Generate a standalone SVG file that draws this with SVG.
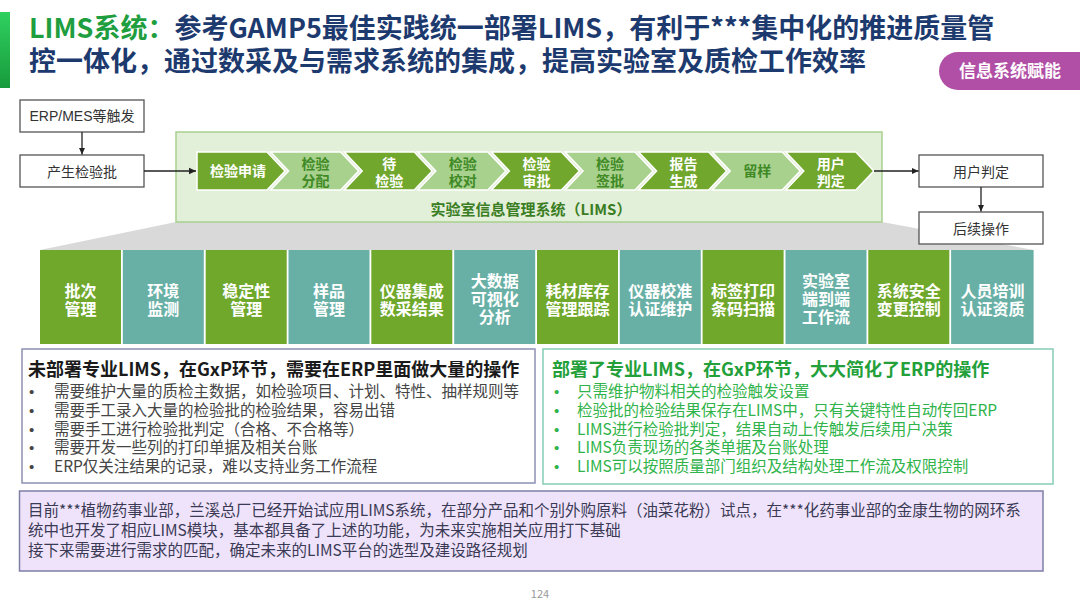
<svg xmlns="http://www.w3.org/2000/svg" width="1080" height="607" viewBox="0 0 1080 607">
<defs>
<linearGradient id="bar" x1="0" y1="0" x2="0" y2="1">
<stop offset="0" stop-color="#2fd160"/><stop offset="1" stop-color="#189a3c"/>
</linearGradient>
<marker id="arr" markerWidth="8" markerHeight="8" refX="7" refY="4" orient="auto" markerUnits="userSpaceOnUse">
<path d="M0,0.8 L7,4 L0,7.2 Z" fill="#222"/>
</marker>
<style>
text{font-family:"Noto Sans CJK SC","Noto Sans",sans-serif}
.t1{font-size:27px;font-weight:bold;fill:#1d3a6f}
.box{fill:#fff;stroke:#555;stroke-width:1.3}
.bt{font-size:14px;fill:#333;text-anchor:middle;font-family:"Liberation Sans","Noto Sans CJK SC",sans-serif}
.cd{fill:#70a72c;stroke:#fff;stroke-width:1.5}
.cl{fill:#a9d18e;stroke:#fff;stroke-width:1.5}
.ctd{font-size:14px;font-weight:bold;fill:#fff;text-anchor:middle}
.ctl{font-size:14px;font-weight:bold;fill:#3f8a25;text-anchor:middle}
.mg{fill:#6fa82b}
.mt{fill:#68b0a6}
.mtx{font-size:16px;font-weight:bold;fill:#fff;text-anchor:middle}
.hd{font-size:18px;font-weight:bold}
.bl{font-size:15.5px}
.dot{font-family:"Liberation Sans",sans-serif;font-size:15px}
.conn{stroke:#222;stroke-width:1.3;fill:none;marker-end:url(#arr)}
</style>
</defs>
<rect width="1080" height="607" fill="#fff"/>

<g id="header">
<rect x="0" y="12" width="10" height="76" fill="url(#bar)"/>
<text class="t1"><tspan x="29" y="38"><tspan fill="#1e9e3e">LIMS系统：</tspan>参考GAMP5最佳实践统一部署LIMS，有利于***集中化的推进质量管</tspan><tspan x="29" y="71">控一体化，通过数采及与需求系统的集成，提高实验室及质检工作效率</tspan></text>
</g>
<g id="tag">
<path d="M958,52 H1080 V90 H958 A19,19 0 0 1 958,52 Z" fill="#b04fa5"/>
<text x="1010" y="77" font-size="17" font-weight="bold" fill="#fff" text-anchor="middle">信息系统赋能</text>
</g>

<g id="trapezoid">
<polygon points="176,222 882,222 1034,250 40,250" fill="#d9d9d9"/>
</g>

<g id="lims">
<rect x="176" y="132" width="706" height="90" fill="#e2efd9" stroke="#a9d18e" stroke-width="1.5"/>
<text x="531" y="215" font-size="15" font-weight="bold" fill="#3b7d23" text-anchor="middle">实验室信息管理系统（LIMS）</text>
</g>

<g id="chevrons">
<g id="c1"><polygon class="cd" points="197,152 267,152 285,171 267,190 197,190"/><text x="238" y="176" class="ctd">检验申请</text></g>
<g id="c2"><polygon class="cl" points="270.6,152 340.6,152 358.6,171 340.6,190 270.6,190 288.6,171"/><text class="ctl"><tspan x="315.6" y="168.5">检验</tspan><tspan x="315.6" y="185.5">分配</tspan></text></g>
<g id="c3"><polygon class="cd" points="344.2,152 414.2,152 432.2,171 414.2,190 344.2,190 362.2,171"/><text class="ctd"><tspan x="389.2" y="168.5">待</tspan><tspan x="389.2" y="185.5">检验</tspan></text></g>
<g id="c4"><polygon class="cl" points="417.8,152 487.8,152 505.8,171 487.8,190 417.8,190 435.8,171"/><text class="ctl"><tspan x="462.8" y="168.5">检验</tspan><tspan x="462.8" y="185.5">校对</tspan></text></g>
<g id="c5"><polygon class="cd" points="491.4,152 561.4,152 579.4,171 561.4,190 491.4,190 509.4,171"/><text class="ctd"><tspan x="536.4" y="168.5">检验</tspan><tspan x="536.4" y="185.5">审批</tspan></text></g>
<g id="c6"><polygon class="cl" points="565,152 635,152 653,171 635,190 565,190 583,171"/><text class="ctl"><tspan x="610" y="168.5">检验</tspan><tspan x="610" y="185.5">签批</tspan></text></g>
<g id="c7"><polygon class="cd" points="638.6,152 708.6,152 726.6,171 708.6,190 638.6,190 656.6,171"/><text class="ctd"><tspan x="683.6" y="168.5">报告</tspan><tspan x="683.6" y="185.5">生成</tspan></text></g>
<g id="c8"><polygon class="cl" points="712.2,152 782.2,152 800.2,171 782.2,190 712.2,190 730.2,171"/><text x="757.2" y="176" class="ctl">留样</text></g>
<g id="c9"><polygon class="cd" points="785.8,152 855.8,152 873.8,171 855.8,190 785.8,190 803.8,171"/><text class="ctd"><tspan x="830.8" y="168.5">用户</tspan><tspan x="830.8" y="185.5">判定</tspan></text></g>
</g>

<g id="n-erp"><rect class="box" x="20" y="100" width="124" height="32"/><text x="82" y="121" class="bt">ERP/MES等触发</text></g>
<g id="n-batch"><rect class="box" x="20" y="155" width="124" height="32"/><text x="82" y="176.5" class="bt">产生检验批</text></g>
<g id="n-judge"><rect class="box" x="919" y="155" width="124" height="32"/><text x="981" y="176.5" class="bt">用户判定</text></g>
<g id="n-follow"><rect class="box" x="919" y="212" width="124" height="32"/><text x="981" y="233.5" class="bt">后续操作</text></g>

<g id="connectors">
<line class="conn" x1="82" y1="132" x2="82" y2="154.5"/>
<line class="conn" x1="144" y1="171" x2="196" y2="171"/>
<line class="conn" x1="874" y1="171" x2="918.5" y2="171"/>
<line class="conn" x1="981" y1="187" x2="981" y2="211.5"/>
</g>

<g id="modules">
<g id="m1"><rect class="mg" x="40" y="250" width="81" height="94"/><text class="mtx"><tspan x="80.5" y="297">批次</tspan><tspan x="80.5" y="315">管理</tspan></text></g>
<g id="m2"><rect class="mt" x="122.8" y="250" width="81" height="94"/><text class="mtx"><tspan x="163.3" y="297">环境</tspan><tspan x="163.3" y="315">监测</tspan></text></g>
<g id="m3"><rect class="mg" x="205.7" y="250" width="81" height="94"/><text class="mtx"><tspan x="246.2" y="297">稳定性</tspan><tspan x="246.2" y="315">管理</tspan></text></g>
<g id="m4"><rect class="mt" x="288.5" y="250" width="81" height="94"/><text class="mtx"><tspan x="329" y="297">样品</tspan><tspan x="329" y="315">管理</tspan></text></g>
<g id="m5"><rect class="mg" x="371.3" y="250" width="81" height="94"/><text class="mtx"><tspan x="411.8" y="297">仪器集成</tspan><tspan x="411.8" y="315">数采结果</tspan></text></g>
<g id="m6"><rect class="mt" x="454.2" y="250" width="81" height="94"/><text class="mtx"><tspan x="494.7" y="287">大数据</tspan><tspan x="494.7" y="305">可视化</tspan><tspan x="494.7" y="323">分析</tspan></text></g>
<g id="m7"><rect class="mg" x="537" y="250" width="81" height="94"/><text class="mtx"><tspan x="577.5" y="297">耗材库存</tspan><tspan x="577.5" y="315">管理跟踪</tspan></text></g>
<g id="m8"><rect class="mt" x="619.8" y="250" width="81" height="94"/><text class="mtx"><tspan x="660.3" y="297">仪器校准</tspan><tspan x="660.3" y="315">认证维护</tspan></text></g>
<g id="m9"><rect class="mg" x="702.6" y="250" width="81" height="94"/><text class="mtx"><tspan x="743.1" y="297">标签打印</tspan><tspan x="743.1" y="315">条码扫描</tspan></text></g>
<g id="m10"><rect class="mt" x="785.5" y="250" width="81" height="94"/><text class="mtx"><tspan x="826" y="287">实验室</tspan><tspan x="826" y="305">端到端</tspan><tspan x="826" y="323">工作流</tspan></text></g>
<g id="m11"><rect class="mg" x="868.3" y="250" width="81" height="94"/><text class="mtx"><tspan x="908.8" y="297">系统安全</tspan><tspan x="908.8" y="315">变更控制</tspan></text></g>
<g id="m12"><rect class="mt" x="951.1" y="250" width="82.5" height="94"/><text class="mtx"><tspan x="992.4" y="297">人员培训</tspan><tspan x="992.4" y="315">认证资质</tspan></text></g>
</g>

<g id="left-box">
<rect x="22" y="349" width="513" height="134" fill="#fff" stroke="#8d90b3" stroke-width="1.5"/>
<text x="28" y="376" class="hd" fill="#1a1a1a">未部署专业LIMS，在GxP环节，需要在ERP里面做大量的操作</text>
<text class="dot" fill="#454545"><tspan x="29" y="397">•</tspan><tspan x="29" y="416">•</tspan><tspan x="29" y="434.5">•</tspan><tspan x="29" y="453">•</tspan><tspan x="29" y="472">•</tspan></text>
<text class="bl" fill="#454545"><tspan x="54" y="397">需要维护大量的质检主数据，如检验项目、计划、特性、抽样规则等</tspan><tspan x="54" y="416">需要手工录入大量的检验批的检验结果，容易出错</tspan><tspan x="54" y="434.5">需要手工进行检验批判定（合格、不合格等）</tspan><tspan x="54" y="453">需要开发一些列的打印单据及相关台账</tspan><tspan x="54" y="472">ERP仅关注结果的记录，难以支持业务工作流程</tspan></text>
</g>

<g id="right-box">
<rect x="543" y="349" width="510" height="135" fill="#fff" stroke="#86cdb9" stroke-width="1.5"/>
<text x="552" y="376" class="hd" fill="#23a03a">部署了专业LIMS，在GxP环节，大大简化了ERP的操作</text>
<text class="dot" fill="#2fb34a"><tspan x="554" y="397">•</tspan><tspan x="554" y="416">•</tspan><tspan x="554" y="434.5">•</tspan><tspan x="554" y="453">•</tspan><tspan x="554" y="472">•</tspan></text>
<text class="bl" fill="#2fb34a"><tspan x="577" y="397">只需维护物料相关的检验触发设置</tspan><tspan x="577" y="416">检验批的检验结果保存在LIMS中，只有关键特性自动传回ERP</tspan><tspan x="577" y="434.5">LIMS进行检验批判定，结果自动上传触发后续用户决策</tspan><tspan x="577" y="453">LIMS负责现场的各类单据及台账处理</tspan><tspan x="577" y="472">LIMS可以按照质量部门组织及结构处理工作流及权限控制</tspan></text>
</g>

<g id="note">
<rect x="19.5" y="491" width="1023.5" height="80" fill="#efe3fb" stroke="#7e7fa5" stroke-width="1.5"/>
<text class="bl" fill="#3a3a55"><tspan x="28" y="516">目前***植物药事业部，兰溪总厂已经开始试应用LIMS系统，在部分产品和个别外购原料（油菜花粉）试点，在***化药事业部的金康生物的网环系</tspan><tspan x="28" y="536">统中也开发了相应LIMS模块，基本都具备了上述的功能，为未来实施相关应用打下基础</tspan><tspan x="28" y="556">接下来需要进行需求的匹配，确定未来的LIMS平台的选型及建设路径规划</tspan></text>
</g>

<text x="540" y="598" font-size="11" fill="#999" text-anchor="middle">124</text>
</svg>
